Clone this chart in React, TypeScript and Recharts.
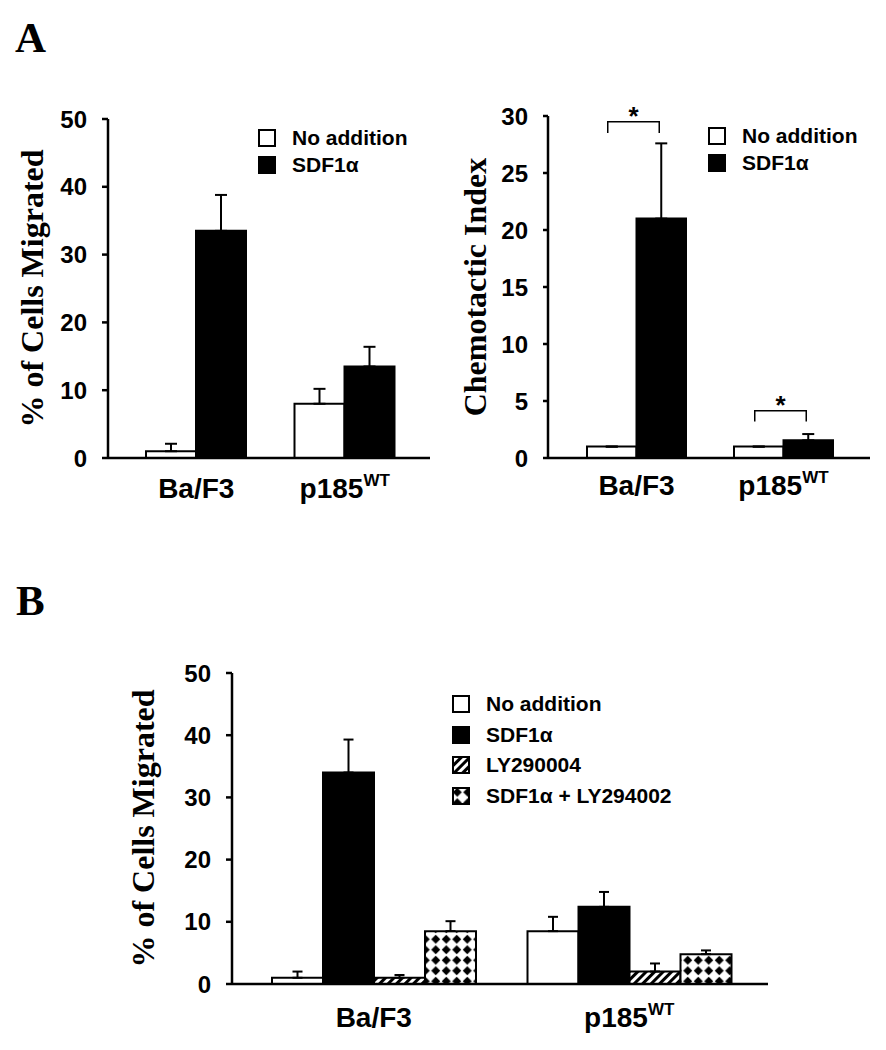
import React from 'react';
import { BarChart, Bar, XAxis, YAxis, ErrorBar, Legend, LabelList } from 'recharts';

const SANS = '"Liberation Sans", Arial, sans-serif';
const SERIF = '"Liberation Serif", "Times New Roman", serif';

const categories = ['Ba/F3', 'p185'];
const categorySup = ['', 'WT'];

// A, left: % of cells migrated
const migNone = [1.0, 8.0];
const migNoneSd = [1.1, 2.2];
const migSdf = [33.5, 13.5];
const migSdfSd = [5.3, 2.9];

// A, right: chemotactic index
const ciNone = [1.0, 1.0];
const ciNoneSd = [0, 0];
const ciSdf = [21.0, 1.55];
const ciSdfSd = [6.6, 0.55];
const sigLevel = [29.5, 4.15];
const sigLeg = [28.5, 3.2];

// B: with LY294002
const bNone = [1.0, 8.5];
const bNoneSd = [1.0, 2.3];
const bSdf = [34.0, 12.4];
const bSdfSd = [5.3, 2.4];
const bLy = [1.0, 2.0];
const bLySd = [0.45, 1.3];
const bSdfLy = [8.5, 4.8];
const bSdfLySd = [1.6, 0.6];

const ticks50 = [0, 10, 20, 30, 40, 50];
const ticks30 = [0, 5, 10, 15, 20, 25, 30];

const dataA = categories.map((cat, i) => ({
  cat,
  none: migNone[i],
  noneErr: [0, migNoneSd[i]],
  sdf: migSdf[i],
  sdfErr: [0, migSdfSd[i]],
}));

const dataCI = categories.map((cat, i) => ({
  cat,
  none: ciNone[i],
  noneErr: [0, ciNoneSd[i]],
  sdf: ciSdf[i],
  sdfErr: [0, ciSdfSd[i]],
}));

const dataB = categories.map((cat, i) => ({
  cat,
  none: bNone[i],
  noneErr: [0, bNoneSd[i]],
  sdf: bSdf[i],
  sdfErr: [0, bSdfSd[i]],
  ly: bLy[i],
  lyErr: [0, bLySd[i]],
  sdfLy: bSdfLy[i],
  sdfLyErr: [0, bSdfLySd[i]],
}));

const legendA = [
  { name: 'No addition', fill: '#fff' },
  { name: 'SDF1\u03b1', fill: '#000' },
];
const legendB = [
  { name: 'No addition', fill: '#fff' },
  { name: 'SDF1\u03b1', fill: '#000' },
  { name: 'LY290004', fill: 'url(#ptnHatch)' },
  { name: 'SDF1\u03b1 + LY294002', fill: 'url(#ptnDiamond)' },
];

const axisStyle = { stroke: '#000', strokeWidth: 2.5 };
const tickFont = { fill: '#000', fontSize: 24, fontFamily: SANS, fontWeight: 'bold' };

const CatTick = ({ x, y, payload, dy }: any) => {
  const i = categories.indexOf(payload.value);
  const sup = categorySup[i];
  return (
    <text x={x} y={y + dy} textAnchor="middle" fontFamily={SANS} fontWeight="bold" fontSize={28} fill="#000">
      {payload.value}
      {sup ? <tspan fontSize={17} dy={-12}>{sup}</tspan> : null}
    </text>
  );
};

const YTitle = ({ viewBox, text, cx }: any) => {
  const cy = viewBox.y + viewBox.height / 2;
  return (
    <text x={cx} y={cy} transform={`rotate(-90 ${cx} ${cy})`} textAnchor="middle" dominantBaseline="central"
      fontFamily={SERIF} fontWeight="bold" fontSize={32} fill="#000">
      {text}
    </text>
  );
};

const LegendBox = ({ items, row, box }: any) => (
  <div style={{ fontFamily: SANS, fontWeight: 'bold', fontSize: 21, color: '#000' }}>
    {items.map((it: any) => (
      <div key={it.name} style={{ display: 'flex', alignItems: 'center', height: row }}>
        <svg width={box} height={box} style={{ display: 'block' }}>
          <rect x={1} y={1} width={box - 2} height={box - 2} fill={it.fill} stroke="#000" strokeWidth={2} />
        </svg>
        <span style={{ marginLeft: 16, whiteSpace: 'nowrap', lineHeight: `${row}px` }}>{it.name}</span>
      </div>
    ))}
  </div>
);

// significance bracket between the two bars of a group, drawn from the SDF bar geometry
const SigBracket = (props: any) => {
  const { x, y, width, height, index } = props;
  const value = ciSdf[index];
  if (!value || !height) return null;
  const base = y + height;
  const ppu = height / value;
  const ly = base - sigLevel[index] * ppu;
  const lg = base - sigLeg[index] * ppu;
  const x1 = x - width / 2 - 4;
  const x2 = x + width / 2 - 2;
  return (
    <g>
      <path d={`M${x1},${lg}V${ly}H${x2}V${lg}`} fill="none" stroke="#000" strokeWidth={1.5} />
      <text x={(x1 + x2) / 2} y={ly + 3} textAnchor="middle" fontFamily={SANS} fontWeight="bold" fontSize={26} fill="#000">*</text>
    </g>
  );
};

const App = () => (
  <div style={{ position: 'absolute', left: 0, top: 0, width: 886, height: 1050, background: '#fff' }}>
    <svg width={886} height={1050} style={{ position: 'absolute', left: 0, top: 0 }}>
      <text x={15} y={52} fontFamily={SERIF} fontWeight="bold" fontSize={43} fill="#000">A</text>
      <text x={16} y={615} fontFamily={SERIF} fontWeight="bold" fontSize={43} fill="#000">B</text>
    </svg>

    <div style={{ position: 'absolute', left: 0, top: 90 }}>
      <BarChart width={440} height={430} data={dataA} margin={{ top: 29, right: 10, bottom: 32, left: 0 }} barGap={0} barSize={50}>
        <XAxis dataKey="cat" tickLine={false} axisLine={axisStyle} padding={{ left: 14, right: 11 }} interval={0}
          height={30} tick={(p: any) => <CatTick {...p} dy={32} />} />
        <YAxis domain={[0, 50]} ticks={ticks50} interval={0} width={108} tickSize={6} tickMargin={15}
          axisLine={axisStyle} tickLine={axisStyle} tick={tickFont}
          label={<YTitle text="% of Cells Migrated" cx={32} />} />
        <Legend layout="vertical" align="center" verticalAlign="middle" wrapperStyle={{ left: 258, top: 34, width: 'auto' }}
          content={() => <LegendBox items={legendA} row={27} box={18} />} />
        <Bar dataKey="none" name="No addition" fill="#fff" stroke="#000" strokeWidth={2} isAnimationActive={false}>
          <ErrorBar dataKey="noneErr" direction="y" width={6} stroke="#000" strokeWidth={2} />
        </Bar>
        <Bar dataKey="sdf" name={'SDF1\u03b1'} fill="#000" stroke="#000" strokeWidth={2} isAnimationActive={false}>
          <ErrorBar dataKey="sdfErr" direction="y" width={6} stroke="#000" strokeWidth={2} />
        </Bar>
      </BarChart>
    </div>

    <div style={{ position: 'absolute', left: 440, top: 90 }}>
      <BarChart width={446} height={430} data={dataCI} margin={{ top: 26, right: 16, bottom: 32, left: 0 }} barGap={0} barSize={49.5}>
        <XAxis dataKey="cat" tickLine={false} axisLine={axisStyle} padding={{ left: 15, right: 13 }} interval={0}
          height={30} tick={(p: any) => <CatTick {...p} dy={29} />} />
        <YAxis domain={[0, 30]} ticks={ticks30} interval={0} width={108} tickSize={5} tickMargin={15}
          axisLine={axisStyle} tickLine={axisStyle} tick={tickFont}
          label={<YTitle text="Chemotactic Index" cx={35} />} />
        <Legend layout="vertical" align="center" verticalAlign="middle" wrapperStyle={{ left: 268, top: 32, width: 'auto' }}
          content={() => <LegendBox items={legendA} row={27} box={18} />} />
        <Bar dataKey="none" name="No addition" fill="#fff" stroke="#000" strokeWidth={2} isAnimationActive={false}>
          <ErrorBar dataKey="noneErr" direction="y" width={6} stroke="#000" strokeWidth={2} />
        </Bar>
        <Bar dataKey="sdf" name={'SDF1\u03b1'} fill="#000" stroke="#000" strokeWidth={2} isAnimationActive={false}>
          <ErrorBar dataKey="sdfErr" direction="y" width={6} stroke="#000" strokeWidth={2} />
          <LabelList dataKey="sdf" content={SigBracket} />
        </Bar>
      </BarChart>
    </div>

    <div style={{ position: 'absolute', left: 0, top: 640 }}>
      <BarChart width={886} height={410} data={dataB} margin={{ top: 33, right: 118, bottom: 36, left: 0 }} barGap={0} barSize={51}>
        <defs>
          <pattern id="ptnHatch" patternUnits="userSpaceOnUse" width={6} height={6} patternTransform="rotate(45)">
            <rect x={0} y={0} width={6} height={6} fill="#fff" />
            <rect x={0} y={0} width={3} height={6} fill="#000" />
          </pattern>
          <pattern id="ptnDiamond" patternUnits="userSpaceOnUse" width={10.5} height={10.5}>
            <rect x={0} y={0} width={10.5} height={10.5} fill="#fff" />
            <polygon points="5.25,0.7 9.8,5.25 5.25,9.8 0.7,5.25" fill="#000" />
          </pattern>
        </defs>
        <XAxis dataKey="cat" tickLine={false} axisLine={axisStyle} padding={{ left: 14, right: 11 }} interval={0}
          height={30} tick={(p: any) => <CatTick {...p} dy={35} />} />
        <YAxis domain={[0, 50]} ticks={ticks50} interval={0} width={232} tickSize={6} tickMargin={15}
          axisLine={axisStyle} tickLine={axisStyle} tick={tickFont}
          label={<YTitle text="% of Cells Migrated" cx={143} />} />
        <Legend layout="vertical" align="center" verticalAlign="middle" wrapperStyle={{ left: 452, top: 49, width: 'auto' }}
          content={() => <LegendBox items={legendB} row={30.5} box={18} />} />
        <Bar dataKey="none" name="No addition" fill="#fff" stroke="#000" strokeWidth={2} isAnimationActive={false}>
          <ErrorBar dataKey="noneErr" direction="y" width={5} stroke="#000" strokeWidth={2} />
        </Bar>
        <Bar dataKey="sdf" name={'SDF1\u03b1'} fill="#000" stroke="#000" strokeWidth={2} isAnimationActive={false}>
          <ErrorBar dataKey="sdfErr" direction="y" width={5} stroke="#000" strokeWidth={2} />
        </Bar>
        <Bar dataKey="ly" name="LY290004" fill="url(#ptnHatch)" stroke="#000" strokeWidth={2} isAnimationActive={false}>
          <ErrorBar dataKey="lyErr" direction="y" width={5} stroke="#000" strokeWidth={2} />
        </Bar>
        <Bar dataKey="sdfLy" name={'SDF1\u03b1 + LY294002'} fill="url(#ptnDiamond)" stroke="#000" strokeWidth={2} isAnimationActive={false}>
          <ErrorBar dataKey="sdfLyErr" direction="y" width={5} stroke="#000" strokeWidth={2} />
        </Bar>
      </BarChart>
    </div>
  </div>
);

export default App;
